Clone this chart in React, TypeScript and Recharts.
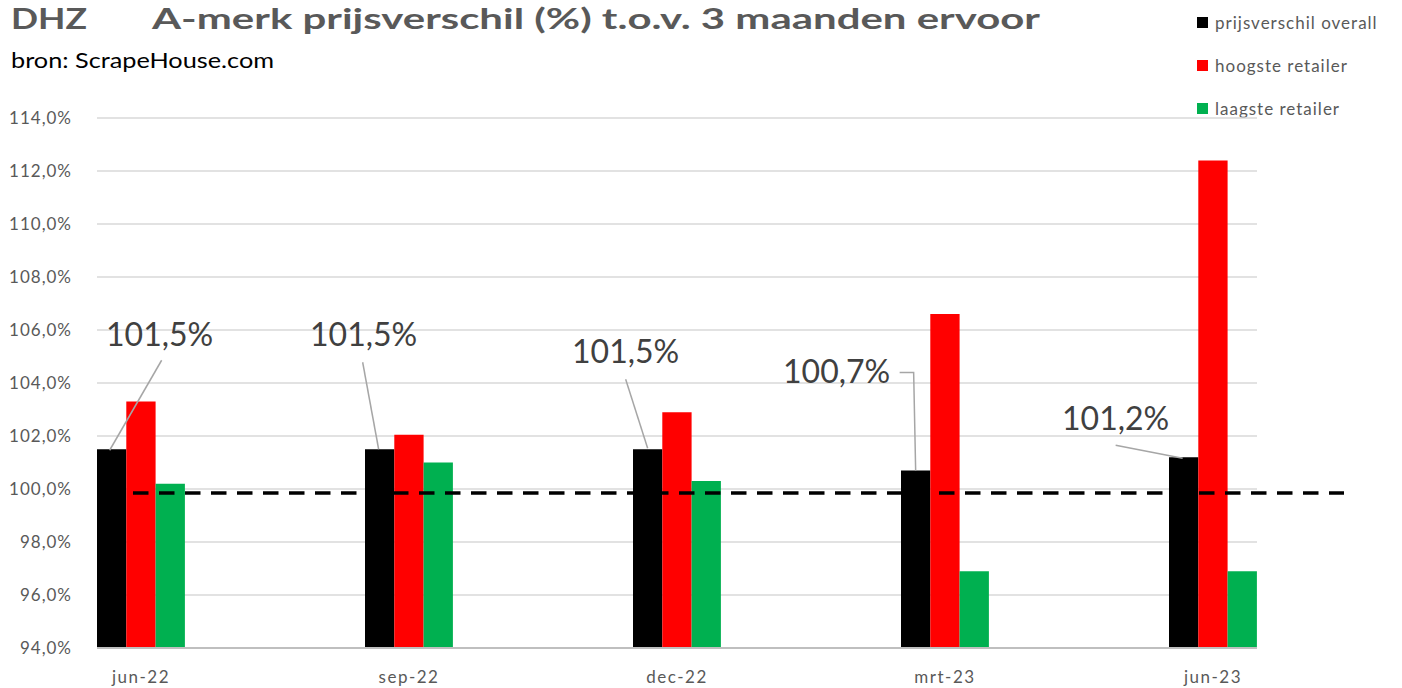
import { Bar, BarChart, CartesianGrid, LabelList, ReferenceLine, XAxis, YAxis } from 'recharts';

const months = ['jun-22', 'sep-22', 'dec-22', 'mrt-23', 'jun-23'];
const overall = [101.5, 101.5, 101.5, 100.7, 101.2];
const highest = [103.3, 102.05, 102.9, 106.6, 112.4];
const lowest = [100.2, 101.0, 100.3, 96.9, 96.9];
const yTicks = [94, 96, 98, 100, 102, 104, 106, 108, 110, 112, 114];
const baseline = 99.85;

const series = [
  { key: 'overall', name: 'prijsverschil overall', color: '#000000' },
  { key: 'highest', name: 'hoogste retailer', color: '#ff0000' },
  { key: 'lowest', name: 'laagste retailer', color: '#00b050' },
];

const data = months.map((month, i) => ({
  month,
  overall: overall[i],
  highest: highest[i],
  lowest: lowest[i],
}));

// callout text centre + leader points, relative to the top centre of the black bar
const callouts = [
  { tx: 48, ty: -114, path: [[-2, 1], [50, -89]] },
  { tx: -16, ty: -114, path: [[-1, 0], [-17, -87]] },
  { tx: -22, ty: -97, path: [[0, -1], [-22, -70]] },
  { tx: -79, ty: -99, path: [[0, 0], [-2, -98], [-16, -98]] },
  { tx: -68, ty: -38, path: [[-1, 1], [-68, -12]] },
];

const font = 'Lato, "Open Sans", sans-serif';
const pct = (v: number) => `${v.toFixed(1).replace('.', ',')}%`;

const Callout = (props: any) => {
  const vb = props.viewBox ?? props;
  const x = vb.x ?? props.x;
  const y = vb.y ?? props.y;
  const width = vb.width ?? props.width;
  const c = callouts[props.index];
  if (!c) return null;
  const cx = x + width / 2;
  const pts = c.path.map(([dx, dy]) => `${cx + dx},${y + dy}`).join(' ');
  return (
    <g>
      <polyline points={pts} fill="none" stroke="#a6a6a6" strokeWidth={1.5} />
      <text x={cx + c.tx} y={y + c.ty} dy="0.35em" textAnchor="middle" fontSize={32} fill="#404040" fontFamily={font}>
        {pct(Number(props.value))}
      </text>
    </g>
  );
};

export default function App() {
  return (
    <div style={{ position: 'absolute', left: 0, top: 0, width: 1402, height: 688, background: '#fff' }}>
      <svg width={1402} height={100} style={{ position: 'absolute', left: 0, top: 0 }}>
        <text x={11} y={29} fontFamily={font} fontWeight={700} fontSize={29} fill="#595959" textLength={76} lengthAdjust="spacingAndGlyphs">
          DHZ
        </text>
        <text x={152} y={29} fontFamily={font} fontWeight={700} fontSize={29} fill="#595959" textLength={888} lengthAdjust="spacingAndGlyphs">
          A-merk prijsverschil (%) t.o.v. 3 maanden ervoor
        </text>
        <text x={11} y={68} fontFamily={font} fontSize={21} fill="#000" textLength={263} lengthAdjust="spacingAndGlyphs">
          bron: ScrapeHouse.com
        </text>
      </svg>
      <div style={{ position: 'absolute', left: 1197, top: 1, fontFamily: font, fontSize: 17, color: '#595959', letterSpacing: 1 }}>
        {series.map((s) => (
          <div key={s.key} style={{ display: 'flex', alignItems: 'center', height: 43 }}>
            <span style={{ width: 11, height: 11, background: s.color, marginRight: 7, display: 'inline-block' }} />
            <span>{s.name}</span>
          </div>
        ))}
      </div>
      <div style={{ position: 'absolute', left: 0, top: 0 }}>
        <BarChart width={1402} height={688} data={data} margin={{ top: 118, right: 145, bottom: 0, left: 0 }} barGap={0} barSize={29.3}>
          <CartesianGrid vertical={false} stroke="#d9d9d9" strokeWidth={1.5} />
          <XAxis
            dataKey="month"
            height={40}
            padding={{ left: -90, right: -90 }}
            tickLine={false}
            tickSize={0}
            tickMargin={23}
            axisLine={{ stroke: '#bfbfbf', strokeWidth: 2 }}
            tick={{ fontSize: 17, fill: '#595959', fontFamily: font, letterSpacing: 1.5 }}
          />
          <YAxis
            width={97}
            domain={[94, 114]}
            ticks={yTicks}
            interval={0}
            tickFormatter={pct}
            tickLine={false}
            tickSize={0}
            tickMargin={25}
            axisLine={false}
            tick={{ fontSize: 17, fill: '#595959', fontFamily: font, letterSpacing: 1 }}
          />
          {series.map((s) => (
            <Bar key={s.key} dataKey={s.key} name={s.name} fill={s.color} isAnimationActive={false}>
              {s.key === 'overall' && <LabelList dataKey="overall" content={Callout} />}
            </Bar>
          ))}
          <ReferenceLine
            y={baseline}
            ifOverflow="visible"
            shape={(p: any) => (
              <line x1={p.x1 + 10} y1={p.y1} x2={p.x2 + 87} y2={p.y2} stroke="#000" strokeWidth={3.5} strokeDasharray="15.5 10.5" />
            )}
          />
        </BarChart>
      </div>
    </div>
  );
}
